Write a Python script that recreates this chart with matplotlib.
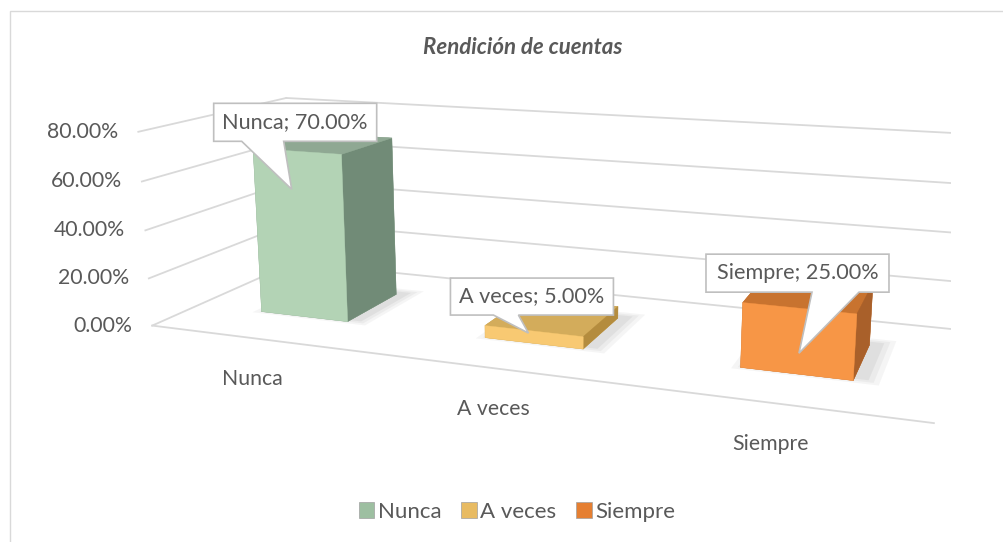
import numpy as np
import matplotlib
matplotlib.use('Agg')
import matplotlib.pyplot as plt
import matplotlib.transforms as mtransforms
from matplotlib.patches import Polygon, Patch, Rectangle
from mpl_toolkits.mplot3d import proj3d
from mpl_toolkits.mplot3d.art3d import Poly3DCollection

plt.rcParams['font.family'] = ['Lato', 'DejaVu Sans']

# datos
categorias = ['Nunca', 'A veces', 'Siempre']
porcentajes = [0.70, 0.05, 0.25]
ticks_y = [0.0, 0.2, 0.4, 0.6, 0.8]
etiquetas_y = ['0.00%', '20.00%', '40.00%', '60.00%', '80.00%']

# colores de cada cara: -Z, +Z (arriba), -Y (frente), +Y, -X, +X (lado)
caras = [
    ['#8ca590', '#8fa893', '#b3d3b5', '#8ca590', '#8ca590', '#718b77'],
    ['#c9a24f', '#d3ac5b', '#f8c972', '#c9a24f', '#c9a24f', '#b48c3e'],
    ['#c4702e', '#c8732f', '#f79646', '#c4702e', '#c4702e', '#a9602a'],
]
leyenda_col = ['#9dbfa1', '#e8bb62', '#e57f32']

# callouts: caja (izq, arriba, der, abajo), base de la cola y punta, en px
# relativos al borde superior frontal de la barra (y hacia abajo)
callouts = [
    dict(box=(-83, -48, 80, -10), base=(-55, -13), tip=(-5, 38)),
    dict(box=(-83, -53, 80, -16), base=(-40, -15), tip=(-5, 2)),
    dict(box=(-93, -54, 90, -16), base=(13, 60), tip=(0, 45)),
]

gris = '#d9d9d9'
texto = '#595959'
fs = 15.3

W, H = 1004, 542
fig = plt.figure(figsize=(W / 100, H / 100), dpi=100)

# borde del area del grafico
fig.add_artist(Rectangle((10 / W, -0.1), 1.2, 1 - 11 / H + 0.1,
                         transform=fig.transFigure, fill=False,
                         edgecolor=gris, lw=1))

S = 819
cx, cy = 542, 243
ax = fig.add_axes([(cx - S / 2) / W, 1 - (cy + S / 2) / H, S / W, S / H],
                  projection='3d', computed_zorder=False)
ax.set_proj_type('persp', focal_length=0.3)
ax.view_init(elev=13.2, azim=-69.5)
ax.set_box_aspect((2.82, 1, 0.73))
ax.set_xlim(-0.5, 2.5)
ax.set_ylim(0, 1)
ax.set_zlim(0, 0.8)
ax.set_axis_off()
ax.patch.set_alpha(0)

x0, x1 = -0.5, 2.5
# lineas de division: pared de fondo y pared lateral
for t in ticks_y:
    ax.plot([x0, x1], [1, 1], [t, t], color=gris, lw=1.3, zorder=1)
    ax.plot([x0, x0], [0, 1], [t, t], color=gris, lw=1.3, zorder=1)
# borde frontal del piso
ax.plot([x0, x1], [0, 0], [0, 0], color=gris, lw=1.3, zorder=1)

ancho = 0.4
y0b = 0.3
for i, v in enumerate(porcentajes):
    xb = i - ancho / 2
    # sombra
    for k, a in enumerate([0.07, 0.08, 0.10]):
        e = 0.05 - k * 0.02
        sx = [xb - e + 0.02, xb + ancho + e + 0.04]
        sy = [y0b - e + 0.03, y0b + ancho + e + 0.03]
        sombra = Poly3DCollection([[(sx[0], sy[0], 0), (sx[1], sy[0], 0),
                                    (sx[1], sy[1], 0), (sx[0], sy[1], 0)]],
                                  facecolor='#7f7f7f', edgecolor='none',
                                  alpha=a, zorder=2)
        ax.add_collection3d(sombra)
    ax.bar3d(xb, y0b, 0, ancho, ancho, v, color=caras[i], shade=False,
             edgecolor=caras[i], lw=0.3, zorder=3)

M = ax.get_proj()


def punto(x, y, z):
    px, py, _ = proj3d.proj_transform(x, y, z, M)
    return float(px), float(py)


def offset_tr(x, y, z):
    px, py = punto(x, y, z)
    return (mtransforms.Affine2D().scale(1, -1) +
            mtransforms.ScaledTranslation(px, py, ax.transData))


# etiquetas del eje vertical
for t, lab in zip(ticks_y, etiquetas_y):
    tr = offset_tr(x0, 0, t)
    fig.text(-20, 0, lab, transform=tr, ha='right', va='center',
             fontsize=fs, color=texto)

# etiquetas de categorias
for i, c in enumerate(categorias):
    tr = offset_tr(i, 0, 0)
    fig.text(-8, 40, c, transform=tr, ha='center', va='center',
             fontsize=fs, color=texto)

# callouts de datos
for i, (c, v) in enumerate(zip(categorias, porcentajes)):
    tr = offset_tr(i, y0b, v)
    d = callouts[i]
    l, t, r, b = d['box']
    b1, b2 = d['base']
    tx, ty = d['tip']
    verts = [(l, t), (r, t), (r, b), (b2, b), (tx, ty), (b1, b), (l, b)]
    fig.add_artist(Polygon(verts, closed=True, transform=tr, facecolor='white',
                           edgecolor='#bfbfbf', lw=1.2, zorder=10))
    fig.text((l + r) / 2, (t + b) / 2, f'{c}; {v * 100:.2f}%', transform=tr,
             ha='center', va='center', fontsize=15.6, color=texto, zorder=11)

fig.text(523 / W, 1 - 47 / H, 'Rendición de cuentas', ha='center', va='center',
         fontsize=16, fontweight='bold', fontstyle='italic', color=texto)

handles = [Patch(facecolor=col, edgecolor='#a0a0a0', lw=0.5) for col in leyenda_col]
fig.legend(handles, categorias, loc='center', bbox_to_anchor=(517 / W, 1 - 512 / H),
           ncol=3, frameon=False, fontsize=16, handlelength=0.7,
           handleheight=0.7, handletextpad=0.15, columnspacing=0.9,
           labelcolor=texto)

fig.savefig('out.png', dpi=100)
